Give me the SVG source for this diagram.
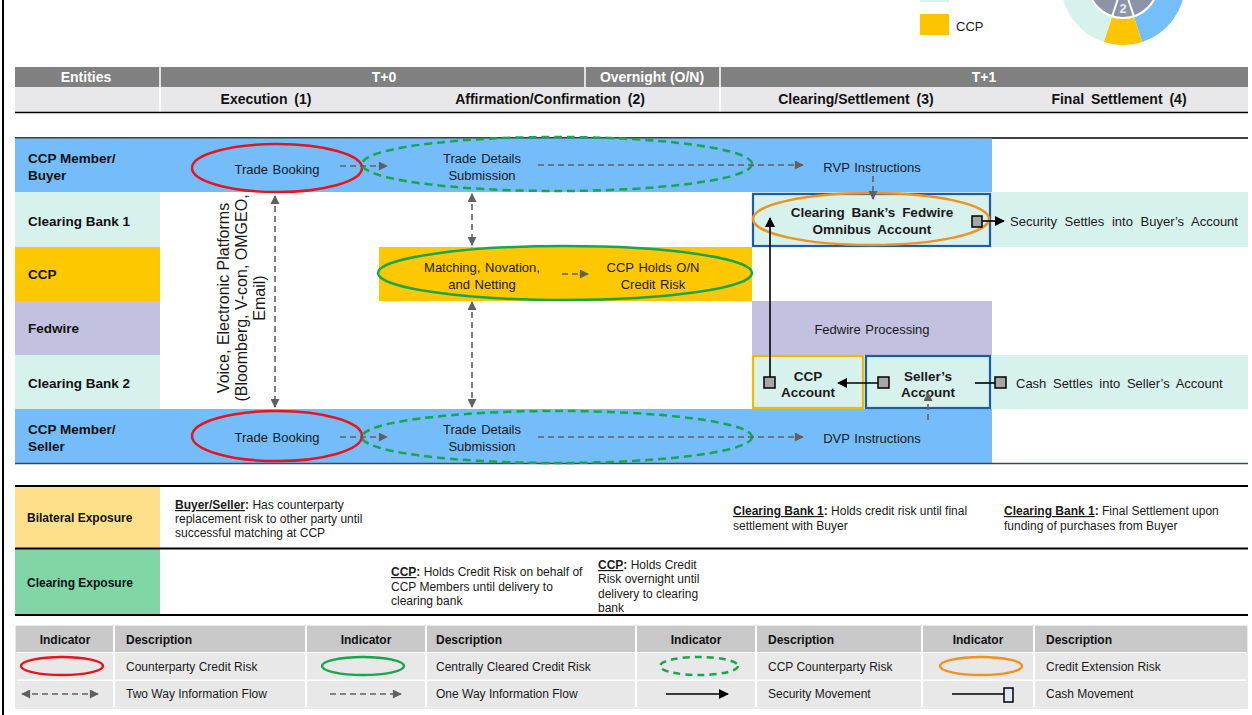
<svg xmlns="http://www.w3.org/2000/svg" width="1252" height="715" viewBox="0 0 1252 715">
<style>
text{font-family:"Liberation Sans",Arial,sans-serif;fill:#1a1a1a}
.h1{font-size:14px;font-weight:bold;fill:#fff;text-anchor:middle}
.h2{font-size:14px;font-weight:bold;fill:#111;text-anchor:middle;word-spacing:3px}
.lab{font-size:13.5px;font-weight:bold;fill:#111}
.t{font-size:13px;word-spacing:1px}
.tb{font-size:13.5px;font-weight:bold;word-spacing:3px}
.c{text-anchor:middle}
.ex{font-size:12px}
.exb{font-size:12px;font-weight:bold;fill:#111}
.lg{font-size:12px}
.lgh{font-size:12px;font-weight:bold;fill:#111}
.red{fill:none;stroke:#e8141c;stroke-width:2.5}
.grn{fill:none;stroke:#18a64c;stroke-width:2.5}
.grd{fill:none;stroke:#18a64c;stroke-width:2.5;stroke-dasharray:8 5}
.org{fill:none;stroke:#f0921e;stroke-width:2.5}
.ia{fill:none;stroke:#606060;stroke-width:1.6;stroke-dasharray:6 4}
.sec{fill:none;stroke:#000;stroke-width:1.6}
.sq{fill:#a6a6a6;stroke:#000;stroke-width:1.5}
.box{fill:none;stroke-width:2.2}
</style>
<defs>
<marker id="ga" viewBox="0 0 10 10" refX="9" refY="5" markerWidth="10" markerHeight="9" markerUnits="userSpaceOnUse" orient="auto-start-reverse"><path d="M0,0 L10,5 L0,10 z" fill="#606060"/></marker>
<marker id="ba" viewBox="0 0 10 10" refX="9" refY="5" markerWidth="11" markerHeight="10" markerUnits="userSpaceOnUse" orient="auto-start-reverse"><path d="M0,0 L10,5 L0,10 z" fill="#000"/></marker>
</defs>
<rect width="1252" height="715" fill="#fff"/>
<line x1="3" y1="0" x2="3" y2="715" stroke="#000" stroke-width="2"/>

<g id="top-legend">
<rect x="920" y="0" width="29" height="2" fill="#d7f1ec"/>
<rect x="920" y="14" width="29" height="21" fill="#fdc500"/>
<text x="956" y="31" font-size="13">CCP</text>
</g>
<g id="donut">
<path d="M1185,-17 A62,62 0 0 1 1142.2,42 L1134.1,17.2 A36,36 0 0 0 1159,-17 Z" fill="#74bffa"/>
<path d="M1142.2,42 A62,62 0 0 1 1103.8,42 L1111.9,17.2 A36,36 0 0 0 1134.1,17.2 Z" fill="#fdc500"/>
<path d="M1103.8,42 A62,62 0 0 1 1061,-17 L1087,-17 A36,36 0 0 0 1111.9,17.2 Z" fill="#d7f1ec"/>
<circle cx="1123" cy="-17" r="35" fill="#8c95a8" stroke="#fff" stroke-width="2"/>
<path d="M1123,-17 L1133.8,16.3 M1123,-17 L1112.2,16.3" stroke="#fff" stroke-width="2"/>
<text x="1123" y="13" class="c" font-size="13" font-weight="bold" style="fill:#e6e9ee">2</text>
</g>

<g id="header">
<rect x="15" y="67" width="1233" height="20" fill="#808080"/>
<rect x="15" y="87" width="1233" height="25" fill="#e8e8ea"/>
<path d="M160,67V112 M585,67V87 M720,67V112" stroke="#fff" stroke-width="1.5"/>
<line x1="15" y1="112.5" x2="1248" y2="112.5" stroke="#000" stroke-width="1.5"/>
<text x="86" y="82" class="h1">Entities</text>
<text x="384" y="82" class="h1">T+0</text>
<text x="652" y="82" class="h1">Overnight (O/N)</text>
<text x="984" y="82" class="h1">T+1</text>
<text x="266" y="104" class="h2">Execution (1)</text>
<text x="550" y="104" class="h2">Affirmation/Confirmation (2)</text>
<text x="856" y="104" class="h2">Clearing/Settlement (3)</text>
<text x="1119" y="104" class="h2">Final Settlement (4)</text>
</g>

<g id="lanes">
<line x1="15" y1="138" x2="1248" y2="138" stroke="#000" stroke-width="1.5"/>
<rect x="15" y="138.5" width="977" height="53.5" fill="#74bdfa"/>
<rect x="15" y="192" width="145" height="55" fill="#d7f1ec"/>
<rect x="752" y="192" width="496" height="55" fill="#d7f1ec"/>
<rect x="15" y="247" width="145" height="54" fill="#fdc800"/>
<rect x="15" y="301" width="145" height="54" fill="#c2c2e0"/>
<rect x="752" y="301" width="240" height="54" fill="#c2c2e0"/>
<rect x="15" y="355" width="145" height="54" fill="#d7f1ec"/>
<rect x="752" y="355" width="496" height="54" fill="#d7f1ec"/>
<rect x="15" y="409" width="977" height="54" fill="#74bdfa"/>
<line x1="15" y1="463.5" x2="1248" y2="463.5" stroke="#404858" stroke-width="1.5"/>
<text x="28" y="163" class="lab">CCP Member/</text>
<text x="28" y="180" class="lab">Buyer</text>
<text x="28" y="226" class="lab">Clearing Bank 1</text>
<text x="28" y="279" class="lab">CCP</text>
<text x="28" y="333" class="lab">Fedwire</text>
<text x="28" y="388" class="lab">Clearing Bank 2</text>
<text x="28" y="434" class="lab">CCP Member/</text>
<text x="28" y="451" class="lab">Seller</text>
</g>

<g id="ccp-block">
<rect x="379" y="247" width="373" height="54" fill="#fdc800"/>
</g>

<g id="voice-label">
<g transform="translate(229,298) rotate(-90)">
<text x="0" y="0" class="c" style="font-size:16px">Voice, Electronic Platforms</text>
<text x="0" y="18" class="c" style="font-size:16px">(Bloomberg, V-con, OMGEO,</text>
<text x="0" y="36" class="c" style="font-size:16px">Email)</text>
</g>
</g>

<g id="buyer-trade-booking">
<ellipse cx="277" cy="168" rx="85" ry="24" class="red"/>
<text x="277" y="173.5" class="t c">Trade Booking</text>
</g>
<g id="buyer-trade-details">
<ellipse cx="557" cy="164" rx="195" ry="27" class="grd"/>
<text x="482" y="163" class="t c">Trade Details</text>
<text x="482" y="180" class="t c">Submission</text>
</g>
<g id="rvp">
<text x="872" y="172" class="t c">RVP Instructions</text>
</g>
<g id="omnibus">
<rect x="753" y="194" width="237" height="52" class="box" stroke="#1a5ea8"/>
<ellipse cx="871" cy="219" rx="118" ry="26" class="org"/>
<text x="872" y="217" class="tb c">Clearing Bank’s Fedwire</text>
<text x="872" y="234" class="tb c">Omnibus Account</text>
</g>
<g id="buyer-settle">
<text x="1010" y="226" class="t" style="word-spacing:4px">Security Settles into Buyer’s Account</text>
</g>
<g id="matching">
<ellipse cx="565" cy="273" rx="187" ry="27" class="grn"/>
<text x="482" y="272" class="t c">Matching, Novation,</text>
<text x="482" y="289" class="t c">and Netting</text>
<text x="653" y="272" class="t c">CCP Holds O/N</text>
<text x="653" y="289" class="t c">Credit Risk</text>
</g>
<g id="fedwire-processing">
<text x="872" y="334" class="t c">Fedwire Processing</text>
</g>
<g id="ccp-account">
<rect x="753" y="356" width="110" height="52" class="box" stroke="#f5b800"/>
<text x="808" y="381" class="tb c">CCP</text>
<text x="808" y="397" class="tb c">Account</text>
</g>
<g id="seller-account">
<rect x="866" y="356" width="124" height="52" class="box" stroke="#1a5ea8"/>
<text x="928" y="381" class="tb c">Seller’s</text>
<text x="928" y="397" class="tb c">Account</text>
</g>
<g id="seller-settle">
<text x="1016" y="388" class="t" style="word-spacing:3px">Cash Settles into Seller’s Account</text>
</g>
<g id="seller-trade-booking">
<ellipse cx="277" cy="436" rx="85" ry="25" class="red"/>
<text x="277" y="441.5" class="t c">Trade Booking</text>
</g>
<g id="seller-trade-details">
<ellipse cx="557" cy="437" rx="195" ry="26" class="grd"/>
<text x="482" y="434" class="t c">Trade Details</text>
<text x="482" y="451" class="t c">Submission</text>
</g>
<g id="dvp">
<text x="872" y="443" class="t c">DVP Instructions</text>
</g>

<g id="connectors">
<path class="ia" d="M340,166 H387" marker-end="url(#ga)"/>
<path class="ia" d="M538,165 H803" marker-end="url(#ga)"/>
<path class="ia" d="M873,176 V199" marker-end="url(#ga)"/>
<path class="ia" d="M275,196 V407" marker-start="url(#ga)" marker-end="url(#ga)"/>
<path class="ia" d="M472,194 V245" marker-start="url(#ga)" marker-end="url(#ga)"/>
<path class="ia" d="M472,302 V407" marker-start="url(#ga)" marker-end="url(#ga)"/>
<path class="ia" d="M562,274 H588" marker-end="url(#ga)"/>
<path class="ia" d="M340,437 H387" marker-end="url(#ga)"/>
<path class="ia" d="M538,437 H803" marker-end="url(#ga)"/>
<path class="ia" d="M928,420 V393" marker-end="url(#ga)"/>
<path class="sec" d="M770,377 V218" marker-end="url(#ba)"/>
<path class="sec" d="M878,383 H838" marker-end="url(#ba)"/>
<path class="sec" d="M982,221 H1004" marker-end="url(#ba)"/>
<path class="sec" d="M975,383 H995"/>
<rect class="sq" x="764" y="377" width="11" height="11"/>
<rect class="sq" x="878" y="377" width="11" height="11"/>
<rect class="sq" x="972" y="216" width="10" height="11"/>
<rect class="sq" x="995" y="377" width="11" height="11"/>
</g>

<g id="exposure">
<rect x="15" y="487" width="145" height="61" fill="#fee08b"/>
<rect x="15" y="549" width="145" height="66" fill="#80d6a6"/>
<path d="M15,486H1248 M15,548.5H1248 M15,615H1248" stroke="#000" stroke-width="2"/>
<text x="27" y="522" class="exb">Bilateral Exposure</text>
<text x="27" y="587" class="exb">Clearing Exposure</text>
<text x="175" y="509" class="ex"><tspan font-weight="bold" text-decoration="underline">Buyer/Seller</tspan><tspan font-weight="bold">:</tspan> Has counterparty</text>
<text x="175" y="523" class="ex">replacement risk to other party until</text>
<text x="175" y="537" class="ex">successful matching at CCP</text>
<text x="733" y="515" class="ex"><tspan font-weight="bold" text-decoration="underline">Clearing Bank 1</tspan><tspan font-weight="bold">:</tspan> Holds credit risk until final</text>
<text x="733" y="530" class="ex">settlement with Buyer</text>
<text x="1004" y="515" class="ex"><tspan font-weight="bold" text-decoration="underline">Clearing Bank 1</tspan><tspan font-weight="bold">:</tspan> Final Settlement upon</text>
<text x="1004" y="530" class="ex">funding of purchases from Buyer</text>
<text x="391" y="576" class="ex"><tspan font-weight="bold" text-decoration="underline">CCP</tspan><tspan font-weight="bold">:</tspan> Holds Credit Risk on behalf of</text>
<text x="391" y="591" class="ex">CCP Members until delivery to</text>
<text x="391" y="605" class="ex">clearing bank</text>
<text x="598" y="569" class="ex"><tspan font-weight="bold" text-decoration="underline">CCP</tspan><tspan font-weight="bold">:</tspan> Holds Credit</text>
<text x="598" y="583" class="ex">Risk overnight until</text>
<text x="598" y="598" class="ex">delivery to clearing</text>
<text x="598" y="612" class="ex">bank</text>
</g>

<g id="legend">
<rect x="16" y="626" width="1231" height="82" fill="#fff" stroke="#d4d4d4"/>
<rect x="16" y="626" width="1231" height="26" fill="#c8c8c8"/>
<rect x="16" y="653" width="1231" height="26.5" fill="#e8e8e8"/>
<rect x="16" y="681" width="1231" height="26" fill="#e8e8e8"/>
<path d="M114,626V707 M306,626V707 M426,626V707 M636,626V707 M756,626V707 M922,626V707 M1034,626V707" stroke="#fff" stroke-width="2"/>
<text x="65" y="644" class="lgh c">Indicator</text>
<text x="126" y="644" class="lgh">Description</text>
<text x="366" y="644" class="lgh c">Indicator</text>
<text x="436" y="644" class="lgh">Description</text>
<text x="696" y="644" class="lgh c">Indicator</text>
<text x="768" y="644" class="lgh">Description</text>
<text x="978" y="644" class="lgh c">Indicator</text>
<text x="1046" y="644" class="lgh">Description</text>
<ellipse cx="62" cy="666" rx="41" ry="9" class="red"/>
<ellipse cx="363" cy="666" rx="41" ry="9" class="grn"/>
<ellipse cx="699" cy="666" rx="39" ry="9" class="grd" style="stroke-dasharray:7 5"/>
<ellipse cx="981" cy="666" rx="41" ry="9" class="org"/>
<text x="126" y="671" class="lg">Counterparty Credit Risk</text>
<text x="436" y="671" class="lg">Centrally Cleared Credit Risk</text>
<text x="768" y="671" class="lg">CCP Counterparty Risk</text>
<text x="1046" y="671" class="lg">Credit Extension Risk</text>
<path class="ia" d="M22,694 H98" marker-start="url(#ga)" marker-end="url(#ga)"/>
<path class="ia" d="M330,694 H401" marker-end="url(#ga)"/>
<path class="sec" d="M666,694 H728" marker-end="url(#ba)"/>
<path class="sec" d="M952,694 H1004"/>
<rect x="1004" y="688" width="9" height="14" fill="#dde9f8" stroke="#000" stroke-width="1.5"/>
<text x="126" y="698" class="lg">Two Way Information Flow</text>
<text x="436" y="698" class="lg">One Way Information Flow</text>
<text x="768" y="698" class="lg">Security Movement</text>
<text x="1046" y="698" class="lg">Cash Movement</text>
</g>
</svg>
